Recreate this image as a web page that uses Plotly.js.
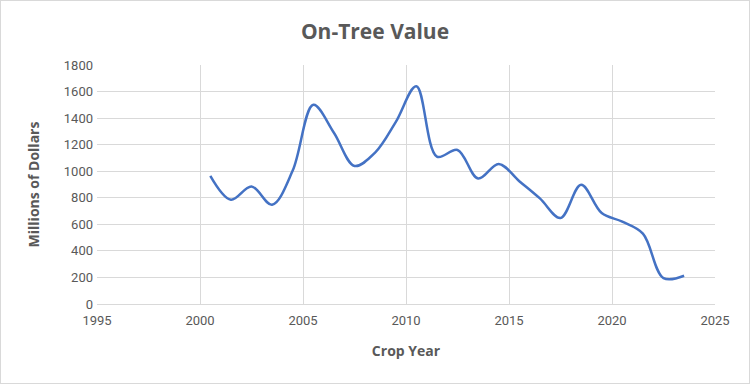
<!DOCTYPE html>
<html>
<head>
<meta charset="utf-8">
<script src="https://cdn.plot.ly/plotly-3.0.1.min.js"></script>
<style>
  html, body { margin: 0; padding: 0; background: #fff; }
  #wrap { width: 750px; height: 384px; box-sizing: border-box; border: 1px solid #d9d9d9; }
  #chart { width: 748px; height: 382px; }
</style>
</head>
<body>
<div id="wrap"><div id="chart"></div></div>
<script>
const cropYears = [2000.5, 2001.5, 2002.5, 2003.5, 2004.5, 2005.5, 2006.5, 2007.5, 2008.5, 2009.5, 2010.5, 2011.5,
                   2012.5, 2013.5, 2014.5, 2015.5, 2016.5, 2017.5, 2018.5, 2019.5, 2020.5, 2021.5, 2022.5, 2023.5];
const onTreeValue = [965, 785, 885, 748, 1005, 1500, 1290, 1040, 1140, 1370, 1640, 1110,
                     1160, 945, 1055, 925, 795, 648, 898, 685, 620, 530, 195, 213];
const xTicks = [1995, 2000, 2005, 2010, 2015, 2020, 2025];
const yTicks = [0, 200, 400, 600, 800, 1000, 1200, 1400, 1600, 1800];

const tickFont = { family: "Liberation Sans Narrow, Roboto, Arial, sans-serif", size: 13, color: "#595959" };
const titleFont = { family: "Open Sans, Roboto, sans-serif", size: 14, color: "#595959", weight: 700 };

Plotly.newPlot("chart", [{
  x: cropYears,
  y: onTreeValue,
  type: "scatter",
  mode: "lines",
  line: { color: "#4472C4", width: 2.5, shape: "spline", smoothing: 1 },
  hoverinfo: "x+y"
}], {
  width: 748, height: 382,
  margin: { l: 96, r: 34, t: 64, b: 79 },
  paper_bgcolor: "#fff", plot_bgcolor: "#fff",
  showlegend: false,
  title: { text: "On-Tree Value", x: 0.5, xanchor: "center", y: 0.92, yanchor: "middle",
           font: { family: "Open Sans, Roboto, sans-serif", size: 21, color: "#595959", weight: 700 } },
  xaxis: {
    range: [1995, 2025], tickvals: xTicks, ticktext: xTicks.map(String),
    showgrid: true, gridcolor: "#d9d9d9", gridwidth: 1,
    zeroline: false, showline: true, linecolor: "#d9d9d9", ticks: "",
    tickfont: tickFont, ticklabelstandoff: 4,
    title: { text: "Crop Year", font: titleFont, standoff: 19 }
  },
  yaxis: {
    range: [0, 1800], tickvals: yTicks, ticktext: yTicks.map(String),
    showgrid: true, gridcolor: "#d9d9d9", gridwidth: 1,
    zeroline: false, showline: false, ticks: "",
    tickfont: tickFont, ticklabelstandoff: 3,
    title: { text: "Millions of Dollars", font: titleFont, standoff: 20 }
  }
}, { staticPlot: true, displayModeBar: false });
</script>
</body>
</html>
